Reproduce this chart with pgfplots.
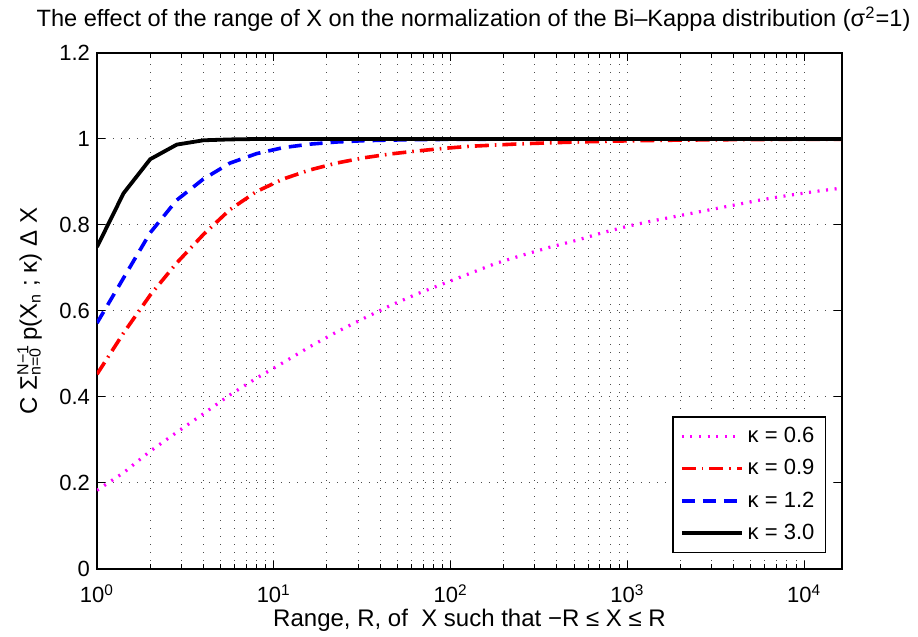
\documentclass[border=0pt]{standalone}
\usepackage{fontspec}
\setmainfont{Liberation Sans}
\usepackage{pgfplots}
\usepackage{pgfplotstable}
\pgfplotsset{compat=1.18}
\definecolor{mlmagenta}{RGB}{255,0,255}
\definecolor{mlred}{RGB}{255,0,0}
\definecolor{mlblue}{RGB}{0,0,255}

% normalization sum vs range R, R = 2^(k/2)
\pgfplotstableread{
R        k06    k09     k12     k30
1        0.183  0.453   0.572   0.749
1.41421  0.224  0.549   0.677   0.874
2        0.274  0.637   0.782   0.953
2.82843  0.318  0.712   0.858   0.987
4        0.361  0.778   0.907   0.997
5.65685  0.405  0.836   0.944   0.999
8        0.444  0.878   0.966   1.000
11.3137  0.480  0.907   0.980   1.000
16       0.517  0.928   0.988   1.000
22.6274  0.551  0.944   0.993   1.000
32       0.582  0.956   0.996   1.000
45.2548  0.612  0.965   0.9975  1.000
64       0.639  0.972   0.9985  1.000
90.5097  0.663  0.978   0.999   1.000
128      0.687  0.983   0.9994  1.000
181.019  0.711  0.986   0.9996  1.000
256      0.730  0.989   0.9998  1.000
362.039  0.748  0.991   0.9999  1.000
512      0.764  0.993   1.000   1.000
724.077  0.782  0.9945  1.000   1.000
1024     0.798  0.9957  1.000   1.000
1448.15  0.811  0.9967  1.000   1.000
2048     0.823  0.9975  1.000   1.000
2896.31  0.835  0.998   1.000   1.000
4096     0.847  0.9985  1.000   1.000
5792.62  0.859  0.9988  1.000   1.000
8192     0.869  0.9991  1.000   1.000
11585.2  0.878  0.9993  1.000   1.000
16384    0.886  0.9995  1.000   1.000
}\normdata

\begin{document}
\begin{tikzpicture}
\path[use as bounding box] (-48.5pt,-34pt) rectangle (410.5pt,284.5pt);
\begin{axis}[
    at={(0,0)}, anchor=south west,
    scale only axis,
    width=372.5pt, height=258pt,
    xmode=log, log basis x=10,
    xmin=1, xmax=16384,
    ymin=0, ymax=1.2,
    xtick={1,10,100,1000,10000},
    xticklabels={10\textsuperscript{0},10\textsuperscript{1},10\textsuperscript{2},10\textsuperscript{3},10\textsuperscript{4}},
    minor xtick={2,3,4,5,6,7,8,9,20,30,40,50,60,70,80,90,200,300,400,500,600,700,800,900,2000,3000,4000,5000,6000,7000,8000,9000},
    ytick={0,0.2,0.4,0.6,0.8,1,1.2},
    yticklabels={0,0.2,0.4,0.6,0.8,1,1.2},
    tick align=inside,
    major tick length=4pt,
    minor tick length=2.5pt,
    every tick/.style={black, line width=0.5pt},
    axis line style={black, line width=0.6pt},
    xmajorgrids=true, xminorgrids=true, ymajorgrids=true,
    major grid style={black!70, line width=0.5pt, dash pattern=on 0.5pt off 3.5pt},
    minor grid style={black!70, line width=0.5pt, dash pattern=on 0.5pt off 3.5pt},
    tick label style={font=\fontsize{11}{13}\selectfont},
    xticklabel style={anchor=base, yshift=-17pt},
    label style={font=\fontsize{12}{14}\selectfont},
    title style={font=\fontsize{11.8}{14}\selectfont, anchor=base, at={(axis description cs:0.5,1)}, yshift=7pt, xshift=2pt},
    title={The effect of the range of X on the normalization of the Bi–Kappa distribution (σ\textsuperscript{2}=1)},
    xlabel={Range, R, of \ X such that −R ≤ X ≤ R},
    xlabel style={anchor=base, at={(axis description cs:0.5,0)}, yshift=-29pt},
    ylabel={C Σ\makebox[0pt][l]{\textsuperscript{N−1}}\textsubscript{n=0} p(X\textsubscript{n} ; κ) Δ X},
    ylabel style={anchor=base, at={([xshift=-30pt]axis description cs:0,0.5)}},
    legend style={
        at={(0.9785,0.031)}, anchor=south east,
        draw=black, line width=0.6pt, fill=white,
        font=\fontsize{11}{13}\selectfont,
        inner xsep=3.5pt, inner ysep=3pt,
        row sep=3pt,
    },
    legend cell align=left,
    legend image code/.code={\draw[#1] (0pt,0pt) -- (30pt,0pt);},
]
\addplot[mlmagenta, line width=1.6pt, dash pattern=on 1pt off 3.3pt] table[x=R, y=k06] {\normdata};
\addlegendentry{κ = 0.6}
\addplot[mlred, line width=1.8pt, dash pattern=on 7pt off 3pt on 0.8pt off 3pt] table[x=R, y=k09] {\normdata};
\addlegendentry{κ = 0.9}
\addplot[mlblue, line width=1.8pt, dash pattern=on 6.5pt off 4pt] table[x=R, y=k12] {\normdata};
\addlegendentry{κ = 1.2}
\addplot[black, line width=1.9pt] table[x=R, y=k30] {\normdata};
\addlegendentry{κ = 3.0}
\end{axis}
\end{tikzpicture}
\end{document}
